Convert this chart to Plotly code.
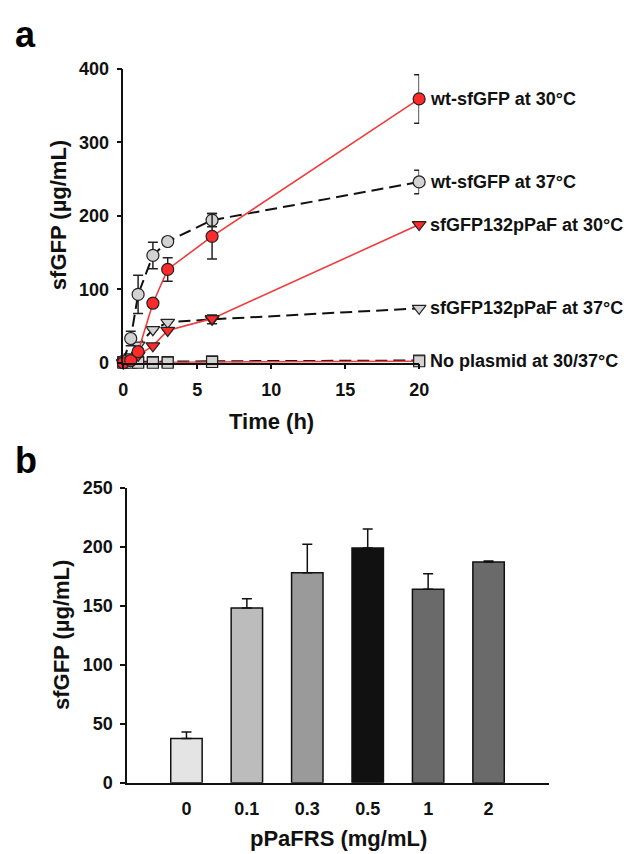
import plotly.graph_objects as go

# ---------------- data: panel a ----------------
time_h = [0, 0.5, 1, 2, 3, 6, 20]
wt30 = [0, 3, 15, 81, 127, 172, 359]
wt30_err = [0, 0, 0, 0, 16, 31, 33]
wt37 = [2, 33, 93, 146, 165, 194, 246]
wt37_err = [0, 10, 26, 18, 5, 9, 16]
paf30 = [0, 3, 10, 23, 44, 60, 188]
paf30_err = [0, 0, 0, 0, 0, 0, 0]
paf37 = [0, 8, 24, 45, 55, 59, 74]
paf37_err = [0, 0, 0, 0, 0, 6, 0]
noplas30 = [0, 0, 0, 0, 0, 1, 2]
noplas37 = [1, 1, 1, 1, 1, 2, 3]
series_labels = ["wt-sfGFP at 30°C", "wt-sfGFP at 37°C", "sfGFP132pPaF at 30°C",
                 "sfGFP132pPaF at 37°C", "No plasmid at 30/37°C"]

# ---------------- data: panel b ----------------
pparfs_cats = ["0", "0.1", "0.3", "0.5", "1", "2"]
bar_vals = [37.5, 148, 178, 199, 164, 187]
bar_err = [5.5, 8, 24, 16, 13, 1]
bar_colors = ["#e4e4e4", "#bcbcbc", "#9a9a9a", "#111111", "#6a6a6a", "#6a6a6a"]

W, H = 633, 854
def px(x):
    return x / W
def py(y):
    return 1 - y / H

FONT = "Liberation Sans, Arial, Helvetica, sans-serif"
RED = "#ff2a2a"
LRED = "#f03c3c"
GREY = "#d2d2d2"
OUT = "#222222"

fig = go.Figure()

def add_series(y, err, line_color, dash, symbol, fill, size, name):
    fig.add_trace(go.Scatter(
        x=time_h, y=y, mode="lines+markers", name=name,
        line=dict(color=line_color, width=1.6 if dash == "solid" else 2, dash=dash),
        marker=dict(symbol=symbol, size=size, color=fill, line=dict(color=OUT, width=1.2)),
        error_y=dict(type="data", array=err, visible=True, color="#222222",
                     thickness=1.5, width=5),
        cliponaxis=False, xaxis="x", yaxis="y", showlegend=False))

DASH = "12px,6px"
add_series(noplas37, [0]*7, "#111111", DASH, "square", GREY, 11, "np37")
add_series(noplas30, [0]*7, LRED, "solid", "square", GREY, 11, "np30")
add_series(paf37, paf37_err, "#111111", DASH, "triangle-down", GREY, 12, series_labels[3])
add_series(paf30, paf30_err, LRED, "solid", "triangle-down", RED, 12, series_labels[2])
add_series(wt37, wt37_err, "#111111", DASH, "circle", GREY, 12, series_labels[1])
add_series(wt30, wt30_err, LRED, "solid", "circle", RED, 12, series_labels[0])

# bars
fig.add_trace(go.Bar(
    x=list(range(len(pparfs_cats))), y=bar_vals, width=0.52,
    marker=dict(color=bar_colors, line=dict(color="#111111", width=1.5)),
    error_y=dict(type="data", symmetric=False, array=bar_err,
                 arrayminus=[0]*len(bar_err), color="#111111", thickness=1.5, width=5),
    xaxis="x2", yaxis="y2", showlegend=False))

tickfont = dict(family=FONT, size=18, color="#111111", weight="bold")
axis_common = dict(showline=True, linecolor="#111111", linewidth=1.5, showgrid=False,
                   zeroline=False, ticks="outside", ticklen=5, tickwidth=1.5,
                   tickcolor="#111111", tickfont=tickfont)

fig.update_layout(
    width=W, height=H, margin=dict(l=0, r=0, t=0, b=0),
    paper_bgcolor="white", plot_bgcolor="white",
    xaxis=dict(domain=[px(113), px(416)], range=[0, 20], tickvals=[0, 5, 10, 15, 20],
               anchor="y", ticklabelstandoff=5, **axis_common),
    yaxis=dict(domain=[py(353), py(52)], range=[0, 400], tickvals=[0, 100, 200, 300, 400],
               anchor="x", ticklabelstandoff=4, **axis_common),
    xaxis2=dict(domain=[px(117), px(549)], range=[-0.98, 6.0],
                tickvals=list(range(len(pparfs_cats))), ticktext=pparfs_cats,
                anchor="y2", ticklabelstandoff=9,
                **{**axis_common, "ticks": ""}),
    yaxis2=dict(domain=[py(783), py(481)], range=[0, 250], tickvals=[0, 50, 100, 150, 200, 250],
                anchor="x2", ticklabelstandoff=4, **axis_common),
)

ann_font = dict(family=FONT, size=18, color="#111111", weight="bold")
title_font = dict(family=FONT, size=22, color="#111111", weight="bold")
letter_font = dict(family=FONT, size=36, color="#000000", weight="bold")

annotations = []
# series labels at the end of each series
for lab, yv in zip(series_labels, [wt30[-1], wt37[-1], paf30[-1], paf37[-1], noplas37[-1]]):
    annotations.append(dict(x=time_h[-1], y=yv, xref="x", yref="y", text=lab,
                            showarrow=False, xanchor="left", yanchor="middle",
                            xshift=9, font=ann_font))
# axis titles
annotations += [
    dict(x=px(46), y=py(202), xref="paper", yref="paper", text="sfGFP (µg/mL)",
         textangle=-90, showarrow=False, font=title_font, xanchor="center", yanchor="middle"),
    dict(x=px(265), y=py(413), xref="paper", yref="paper", text="Time (h)",
         showarrow=False, font=title_font, xanchor="center", yanchor="middle"),
    dict(x=px(49), y=py(632), xref="paper", yref="paper", text="sfGFP (µg/mL)",
         textangle=-90, showarrow=False, font=title_font, xanchor="center", yanchor="middle"),
    dict(x=px(333), y=py(840), xref="paper", yref="paper", text="pPaFRS (mg/mL)",
         showarrow=False, font=title_font, xanchor="center", yanchor="middle"),
    dict(x=px(0), y=py(-6), xref="paper", yref="paper", text="a",
         showarrow=False, font=letter_font, xanchor="left", yanchor="top"),
    dict(x=px(0), y=py(430), xref="paper", yref="paper", text="b",
         showarrow=False, font=letter_font, xanchor="left", yanchor="top"),
]
fig.update_layout(annotations=annotations)

fig.write_html("out.html")
